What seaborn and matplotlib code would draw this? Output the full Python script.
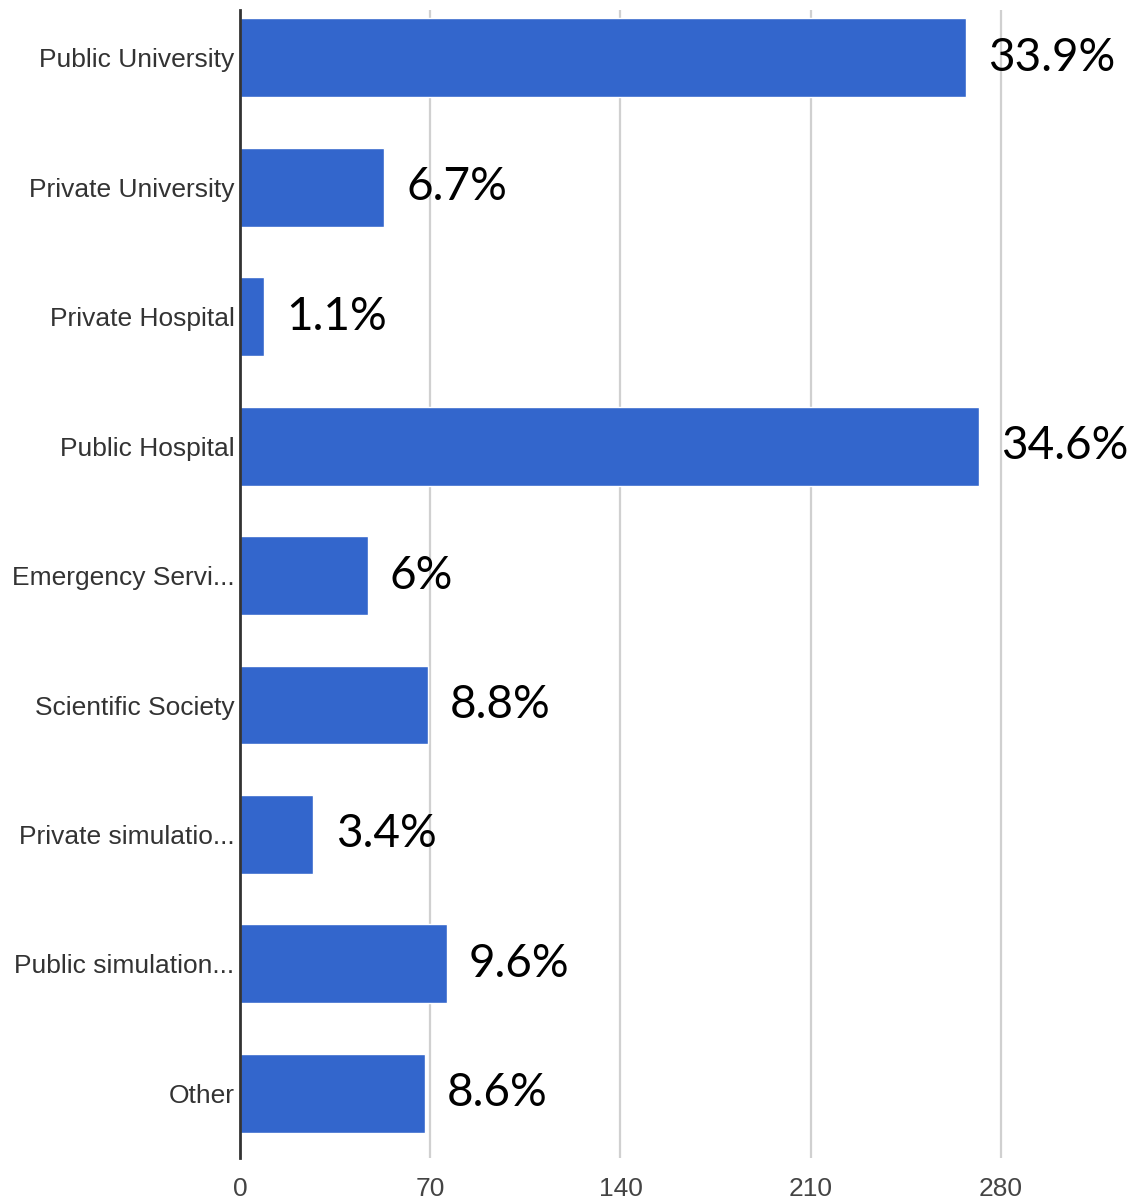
import matplotlib
matplotlib.use("Agg")
import matplotlib.pyplot as plt
import seaborn as sns
import pandas as pd

categories = ["Public University", "Private University", "Private Hospital",
              "Public Hospital", "Emergency Servi...", "Scientific Society",
              "Private simulatio...", "Public simulation...", "Other"]
counts = [267, 53, 9, 272, 47, 69, 27, 76, 68]
pct_labels = ["33.9%", "6.7%", "1.1%", "34.6%", "6%", "8.8%", "3.4%", "9.6%", "8.6%"]
x_ticks = [0, 70, 140, 210, 280]

df = pd.DataFrame({"category": categories, "count": counts})

sns.set_style("white")
plt.rcParams["font.family"] = ["Liberation Sans", "DejaVu Sans"]

fig = plt.figure(figsize=(11.45, 12.03), dpi=100)
ax = fig.add_axes([240 / 1145, 1 - 1158 / 1203, 1 - 240 / 1145, (1158 - 10) / 1203])

sns.barplot(data=df, y="category", x="count", orient="h", color="#3366cc",
            saturation=1, width=0.61, ax=ax)

ax.set_xlim(0, 333)
ax.set_ylim(8.5, -0.37)
ax.set_xticks(x_ticks)
ax.set_xticklabels([str(t) for t in x_ticks])
ax.set_xlabel("")
ax.set_ylabel("")
ax.grid(axis="x", color="#d0d0d0", linewidth=1.6)
ax.set_axisbelow(True)
for s in ["top", "right", "bottom"]:
    ax.spines[s].set_visible(False)
ax.spines["left"].set_color("#333333")
ax.spines["left"].set_linewidth(2)
ax.spines["left"].set_zorder(5)
ax.tick_params(axis="both", length=0, labelsize=19, colors="#333333")
ax.tick_params(axis="y", pad=4)
ax.tick_params(axis="x", pad=14)
for lbl in ax.get_xticklabels():
    lbl.set_color("#444444")

for i, (v, t) in enumerate(zip(counts, pct_labels)):
    ax.annotate(t, xy=(v, i), xytext=(16, 0), textcoords="offset points",
                va="center", ha="left", fontsize=33, family="Lato", color="black")

fig.savefig("out.png", dpi=100)
